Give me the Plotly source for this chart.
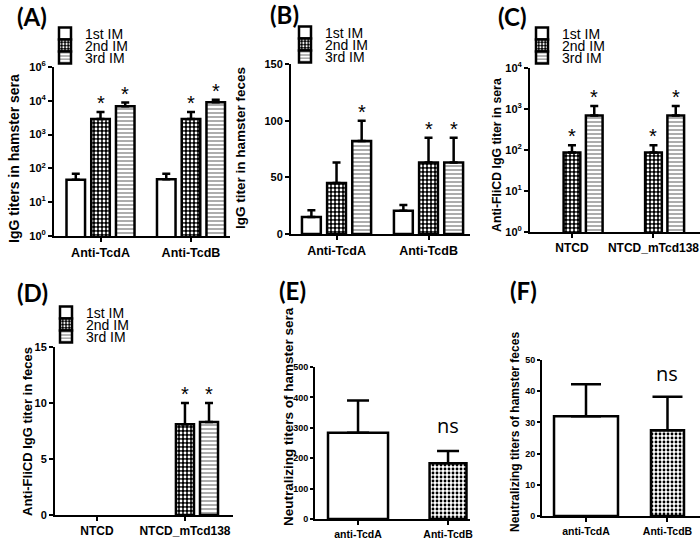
import plotly.graph_objects as go
import math

W, H = 700, 547

# ---------------- data ----------------
series = ["1st IM", "2nd IM", "3rd IM"]
cats_AB = ["Anti-TcdA", "Anti-TcdB"]
cats_CD = ["NTCD", "NTCD_mTcd138"]
cats_EF = ["anti-TcdA", "Anti-TcdB"]

# (A) IgG titers in hamster sera
a_1st = [46, 48]
a_1st_err = [23, 21]
a_2nd = [2900, 2900]
a_2nd_err = [1800, 1800]
a_3rd = [6900, 9100]
a_3rd_err = [2000, 1600]
a_star = [[False, False], [True, True], [True, True]]

# (B) IgG titer in hamster feces
b_1st = [15, 20.6]
b_1st_err = [6, 5]
b_2nd = [45, 63]
b_2nd_err = [18, 22]
b_3rd = [82, 63]
b_3rd_err = [18, 22]
b_star = [[False, False], [False, True], [True, True]]

# (C) Anti-FliCD IgG titer in sera
c_1st = [None, None]
c_1st_err = [0, 0]
c_2nd = [87, 87]
c_2nd_err = [43, 43]
c_3rd = [695, 695]
c_3rd_err = [485, 485]
c_star = [[False, False], [True, True], [True, True]]

# (D) Anti-FliCD IgG titer in feces
d_1st = [None, None]
d_1st_err = [0, 0]
d_2nd = [None, 8.1]
d_2nd_err = [0, 1.9]
d_3rd = [None, 8.3]
d_3rd_err = [0, 1.7]
d_star = [[False, False], [False, True], [False, True]]

# (E) Neutralizing titers of hamster sera
e_vals = [284, 183]
e_err = [106, 41]
# (F) Neutralizing titers of hamster feces
f_vals = [32, 27.5]
f_err = [10.2, 10.7]

# ---------------- styling ----------------
FONT = "Liberation Sans, Arial, sans-serif"
BARGAP = 0.18
SLOT = (1 - BARGAP) / 3

STYLE = {
    "1st IM": dict(color="white", pattern=dict(shape="")),
    "2nd IM": dict(color="black", pattern=dict(shape=".", fgcolor="white", bgcolor="black",
                                                size=4, solidity=0.4, fillmode="replace")),
    "3rd IM": dict(color="white", pattern=dict(shape="-", fgcolor="#8a8a8a", bgcolor="white",
                                                size=4, solidity=0.35, fillmode="replace")),
}


def px_x(p):
    return p / W


def px_y(p):
    return 1 - p / H


fig = go.Figure()
annotations = []
layout_axes = {}
legends = {}

panels = [
    dict(key="A", n=1, cats=cats_AB,
         vals=[a_1st, a_2nd, a_3rd], errs=[a_1st_err, a_2nd_err, a_3rd_err], stars=a_star,
         log=True, xd=(54, 230), yd=(67, 236), xr=[-0.514, 1.431], yr=[0, 5],
         tickvals=[1, 10, 100, 1000, 10000, 100000],
         ticktext=["10<sup>0</sup>", "10<sup>1</sup>", "10<sup>2</sup>", "10<sup>3</sup>",
                   "10<sup>4</sup>", "10<sup>6</sup>"],
         leg_x=45, leg_y=[34, 46, 58],
         title="IgG titers in hamster sera", tx=14, ty=159, tsize=14, csize=12.5,
         label="(A)", lx=32, ly=16),
    dict(key="B", n=2, cats=cats_AB,
         vals=[b_1st, b_2nd, b_3rd], errs=[b_1st_err, b_2nd_err, b_3rd_err], stars=b_star,
         log=False, xd=(291, 470), yd=(64, 234), xr=[-0.495, 1.451], yr=[0, 150],
         tickvals=[0, 50, 100, 150], ticktext=["0", "50", "100", "150"],
         leg_x=285, leg_y=[33, 45, 57],
         title="IgG titer in hamster feces", tx=240, ty=148, tsize=13.5, csize=12.5,
         label="(B)", lx=284, ly=15),
    dict(key="C", n=3, cats=cats_CD,
         vals=[c_1st, c_2nd, c_3rd], errs=[c_1st_err, c_2nd_err, c_3rd_err], stars=c_star,
         log=True, xd=(530, 700), yd=(68, 232), xr=[-0.515, 1.571], yr=[0, 4],
         tickvals=[1, 10, 100, 1000, 10000],
         ticktext=["10<sup>0</sup>", "10<sup>1</sup>", "10<sup>2</sup>", "10<sup>3</sup>",
                   "10<sup>4</sup>"],
         leg_x=522, leg_y=[34, 46, 58],
         title="Anti-FliCD IgG titer in sera", tx=497, ty=155, tsize=12.3, csize=12,
         label="(C)", lx=512, ly=16),
    dict(key="D", n=4, cats=cats_CD,
         vals=[d_1st, d_2nd, d_3rd], errs=[d_1st_err, d_2nd_err, d_3rd_err], stars=d_star,
         log=False, xd=(55, 233), yd=(347, 515), xr=[-0.477, 1.546], yr=[0, 15],
         tickvals=[0, 5, 10, 15], ticktext=["0", "5", "10", "15"],
         leg_x=46, leg_y=[313, 325, 337],
         title="Anti-FliCD IgG titer in feces", tx=27, ty=432, tsize=13, csize=12,
         label="(D)", lx=32, ly=292),
]

for p in panels:
    n = p["n"]
    xa = "x" if n == 1 else f"x{n}"
    ya = "y" if n == 1 else f"y{n}"
    for i, s in enumerate(series):
        lg_idx = (n - 1) * 3 + i + 1
        lg = "legend" if lg_idx == 1 else f"legend{lg_idx}"
        st = STYLE[s]
        fig.add_trace(go.Bar(
            x=p["cats"], y=p["vals"][i], name=s, xaxis=xa, yaxis=ya, legend=lg,
            marker=dict(color=st["color"], pattern=st["pattern"],
                        line=dict(color="black", width=2.5)),
            error_y=dict(type="data", array=p["errs"][i], arrayminus=[0] * len(p["cats"]),
                         symmetric=False, color="black", thickness=2.5, width=4),
            showlegend=True,
        ))
        legends[lg] = dict(
            x=px_x(p["leg_x"]), y=px_y(p["leg_y"][i]), xanchor="left", yanchor="middle",
            bgcolor="rgba(0,0,0,0)", borderwidth=0, itemwidth=30,
            font=dict(family=FONT, size=14, color="black"), itemclick=False,
        )
        for j, c in enumerate(p["cats"]):
            if p["stars"][i][j]:
                top = p["vals"][i][j] + p["errs"][i][j]
                annotations.append(dict(
                    x=j + (i - 1) * SLOT, y=math.log10(top) if p["log"] else top,
                    xref=xa, yref=ya, text="*", showarrow=False,
                    yanchor="bottom", yshift=-4,
                    font=dict(family=FONT, size=20, color="black")))
    xkey = "xaxis" if n == 1 else f"xaxis{n}"
    ykey = "yaxis" if n == 1 else f"yaxis{n}"
    layout_axes[xkey] = dict(
        domain=[px_x(p["xd"][0]), px_x(p["xd"][1])], anchor=ya, type="category",
        range=p["xr"], showline=True, linecolor="black", linewidth=2,
        ticks="outside", ticklen=4, tickwidth=2, tickcolor="black",
        tickfont=dict(family=FONT, size=p["csize"], color="black", weight="bold"),
        showgrid=False, zeroline=False, fixedrange=True)
    layout_axes[ykey] = dict(
        domain=[px_y(p["yd"][1]), px_y(p["yd"][0])], anchor=xa,
        type="log" if p["log"] else "linear", range=p["yr"],
        tickmode="array", tickvals=p["tickvals"], ticktext=p["ticktext"],
        showline=True, linecolor="black", linewidth=2,
        ticks="outside", ticklen=4, tickwidth=2, tickcolor="black",
        tickfont=dict(family=FONT, size=11, color="black", weight="bold"),
        showgrid=False, zeroline=False, fixedrange=True)
    annotations.append(dict(
        x=px_x(p["tx"]), y=px_y(p["ty"]), xref="paper", yref="paper", text=p["title"],
        textangle=-90, showarrow=False, xanchor="center", yanchor="middle",
        font=dict(family=FONT, size=p["tsize"], color="black", weight="bold")))
    annotations.append(dict(
        x=px_x(p["lx"]), y=px_y(p["ly"]), xref="paper", yref="paper", text=p["label"],
        showarrow=False, xanchor="center", yanchor="middle",
        font=dict(family="Lato, Open Sans, sans-serif", size=24, color="black", weight="bold")))

# ---------------- E and F ----------------
ef = [
    dict(n=5, vals=e_vals, errs=e_err, widths=[0.667, 0.41], xd=(315, 470), yd=(367, 519),
         xr=[-0.478, 1.244], yr=[0, 500], tickvals=[0, 100, 200, 300, 400, 500],
         title="Neutralizing titers of hamster sera", tx=288, ty=417, tsize=13.5,
         label="(E)", lx=292, ly=291, ns_shift=18, cap=11),
    dict(n=6, vals=f_vals, errs=f_err, widths=[0.785, 0.405], xd=(542, 700), yd=(360, 516),
         xr=[-0.54, 1.399], yr=[0, 50], tickvals=[0, 10, 20, 30, 40, 50],
         title="Neutralizing titers of hamster feces", tx=515, ty=432, tsize=12,
         label="(F)", lx=523, ly=290, ns_shift=16, cap=15),
]
for p in ef:
    n = p["n"]
    xa, ya = f"x{n}", f"y{n}"
    fig.add_trace(go.Bar(
        x=cats_EF, y=p["vals"], width=p["widths"], xaxis=xa, yaxis=ya, showlegend=False,
        marker=dict(color=["white", "black"],
                    pattern=dict(shape=["", "."], fgcolor="white", bgcolor=["white", "black"],
                                 size=4, solidity=0.4, fillmode="replace"),
                    line=dict(color="black", width=2.5)),
        error_y=dict(type="data", array=p["errs"], arrayminus=[0, 0], symmetric=False,
                     color="black", thickness=2.5, width=p["cap"]),
    ))
    layout_axes[f"xaxis{n}"] = dict(
        domain=[px_x(p["xd"][0]), px_x(p["xd"][1])], anchor=ya, type="category",
        range=p["xr"], showline=True, linecolor="black", linewidth=2,
        ticks="outside", ticklen=4, tickwidth=2, tickcolor="black",
        tickfont=dict(family=FONT, size=10.5, color="black", weight="bold"),
        showgrid=False, zeroline=False, fixedrange=True)
    layout_axes[f"yaxis{n}"] = dict(
        domain=[px_y(p["yd"][1]), px_y(p["yd"][0])], anchor=xa, range=p["yr"],
        tickmode="array", tickvals=p["tickvals"],
        showline=True, linecolor="black", linewidth=2,
        ticks="outside", ticklen=3, tickwidth=2, tickcolor="black",
        tickfont=dict(family=FONT, size=9, color="black", weight="bold"),
        showgrid=False, zeroline=False, fixedrange=True)
    annotations.append(dict(
        x=1, y=p["vals"][1] + p["errs"][1], xref=xa, yref=ya, text="ns", showarrow=False,
        yanchor="bottom", yshift=p["ns_shift"] - 8,
        font=dict(family="Open Sans, sans-serif", size=20, color="black")))
    annotations.append(dict(
        x=px_x(p["tx"]), y=px_y(p["ty"]), xref="paper", yref="paper", text=p["title"],
        textangle=-90, showarrow=False, xanchor="center", yanchor="middle",
        font=dict(family=FONT, size=p["tsize"], color="black", weight="bold")))
    annotations.append(dict(
        x=px_x(p["lx"]), y=px_y(p["ly"]), xref="paper", yref="paper", text=p["label"],
        showarrow=False, xanchor="center", yanchor="middle",
        font=dict(family="Lato, Open Sans, sans-serif", size=24, color="black", weight="bold")))

fig.update_layout(
    width=W, height=H, margin=dict(l=0, r=0, t=0, b=0, autoexpand=False),
    paper_bgcolor="white", plot_bgcolor="white",
    barmode="group", bargap=BARGAP, bargroupgap=0.25,
    annotations=annotations, **layout_axes, **legends,
)

fig.write_html(
    "out.html",
    config={"displayModeBar": False},
    post_script="document.body.style.margin='0';document.body.style.overflow='hidden';",
)
